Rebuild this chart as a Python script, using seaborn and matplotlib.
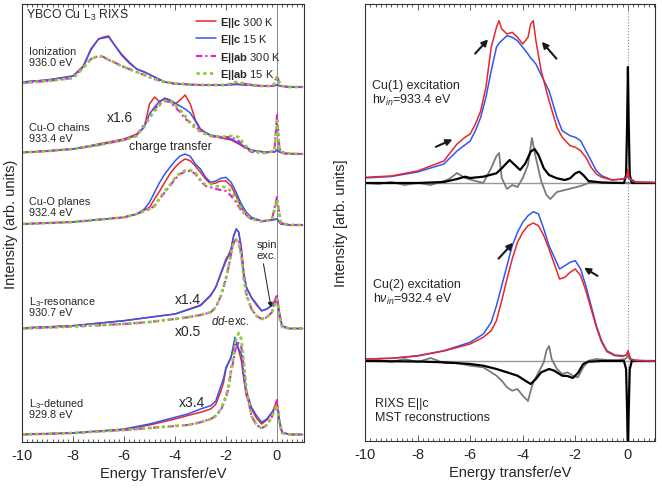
import numpy as np
import matplotlib
matplotlib.use("Agg")
import matplotlib.pyplot as plt
import seaborn as sns
from matplotlib.lines import Line2D
from matplotlib.ticker import MultipleLocator

# ---------------- left panel: YBCO Cu L3 RIXS (heights above each baseline)
e_ion = [-10, -9, -8, -7.6, -7.3, -7.0, -6.8, -6.6, -6.4, -6.1, -5.8, -5.5, -5.2,
         -4.8, -4.4, -4.0, -3.0, -2.0, -1.6, -1.2, -0.6, -0.15, 0.0, 0.15, 0.5, 1.0]
ion_c300 = [5, 7, 11, 21, 38, 48, 50, 51, 43, 33, 25, 18, 15, 10, 5, 3, 2, 2, 3, 2, 1, 1, 2, 1, 0, 0]
ion_c15 = [5, 7, 11, 20, 37, 48, 49, 50, 43, 32, 24, 18, 15, 10, 5, 3, 2, 2, 2.5, 2, 1, 1, 2, 1, 0, 0]
ion_ab300 = [4, 6, 9, 20, 28, 31, 30, 27, 25, 21, 18, 15, 12, 8, 5, 3.5, 2, 2, 4, 3, 1, 1, 11, 1, 0, 0]
ion_ab15 = [4, 6, 9, 19, 28, 31, 30, 27, 25, 21, 18, 15, 12, 8, 5, 3.5, 2, 2, 5, 3, 1, 1, 10, 1, 0, 0]

e_chain = [-10, -9, -8, -7, -6, -5.5, -5.2, -5.0, -4.8, -4.6, -4.4, -4.2, -4.0, -3.8, -3.6,
           -3.4, -3.2, -3.0, -2.6, -2.2, -1.8, -1.5, -1.3, -1.0, -0.5, -0.1, 0.0, 0.1, 0.3, 1.0]
chain_c300 = [1.5, 3, 5, 10, 15, 20, 27, 50, 57, 52, 56, 54, 50, 54, 59, 50, 34, 25, 18, 16,
              14, 10, 7, 3.5, 2, 2, 4, 2, 0.5, 0]
chain_c15 = [1.5, 3, 5, 9, 14, 19, 27, 40, 47, 53, 55, 54, 51, 48, 45, 41, 33, 24, 19, 17,
             15, 11, 8, 4, 2, 2, 4, 2, 0.5, 0]
chain_ab300 = [1.5, 3, 5, 9, 14, 19, 30, 38, 45, 50, 53, 52, 47, 42, 35, 32, 28, 23, 18, 17,
               17, 13, 7, 2, 1, 3, 39, 5, 0.5, 0]
chain_ab15 = [1.5, 3, 5, 9, 14, 18, 28, 36, 43, 49, 53, 53, 49, 44, 38, 30, 26, 22, 18, 17,
              18, 17, 10, 3, 1, 3, 33, 5, 0.5, 0]

e_plane = [-10, -8, -6, -5.5, -5.2, -5.0, -4.8, -4.6, -4.4, -4.2, -4.0, -3.8, -3.6, -3.4, -3.2,
           -3.0, -2.8, -2.6, -2.4, -2.2, -2.0, -1.8, -1.6, -1.4, -1.2, -1.0, -0.6, -0.2, 0.0,
           0.15, 0.5, 1.0]
plane_c300 = [1, 3, 7.7, 11, 15, 17.7, 26, 34, 42.7, 51, 57.7, 62.7, 66, 64.3, 59, 52.7, 46, 41,
              42, 44, 44, 39, 29, 17.7, 9.7, 7, 4, 5, 6, 1, 0, 0]
plane_c15 = [1, 3, 7.7, 11, 16, 22.7, 32.7, 42.7, 51, 57.7, 64, 69, 71, 68.7, 61, 56, 47.7, 42.7,
             44, 46.7, 47.7, 42.7, 32.7, 21, 12.7, 7.7, 4, 5, 6, 1, 0, 0]
plane_ab300 = [1, 3, 7.7, 11, 14, 16, 19, 26, 32.7, 39, 46, 51, 53.3, 54.3, 51, 44, 39, 37.7, 36,
               35, 34, 29, 22.7, 14.3, 9.3, 6, 3.7, 5, 28, 2, 0, 0]
plane_ab15 = [1, 3, 7.7, 11, 14, 16, 19, 27, 34, 40, 47, 52, 54.5, 55, 52, 45, 40, 41, 38.7,
              38.7, 37.7, 34, 26, 16, 10, 6, 3.7, 5, 25, 2, 0, 0]

e_res = [-10, -8, -6, -5, -4, -3.5, -3.0, -2.6, -2.4, -2.2, -2.0, -1.9, -1.8, -1.7, -1.6, -1.5,
         -1.4, -1.3, -1.2, -1.0, -0.8, -0.6, -0.4, -0.2, 0.0, 0.1, 0.2, 0.5, 1.0]
res_c300 = [1, 3.3, 8.3, 11.7, 15, 19.5, 24, 34, 42, 56, 70, 74, 80, 93, 100, 97, 82, 56, 42,
            31, 24, 18, 20, 24, 32, 16, 3, 0.5, 0.5]
res_c15 = [1, 3.3, 8.3, 11.7, 15, 19, 23.3, 33.3, 41.7, 55, 68, 73, 80, 93, 100, 96.7, 80, 55,
           41.7, 31.7, 25, 18.3, 20, 23.3, 28, 15, 3, 0.5, 0.5]
res_ab300 = [0.5, 2.5, 5, 7, 10, 11.7, 14, 16.7, 21.7, 33, 50, 61.7, 75, 86, 90, 88, 75, 51.7,
             35, 20, 13, 10, 11.7, 16.7, 35, 12, 2, 0.5, 0.5]
res_ab15 = [0.5, 2.5, 5, 7, 10, 11.7, 14, 16.7, 21.7, 33, 51, 62, 76, 87, 89, 86, 74, 50,
            34, 20, 13, 10, 11.7, 16.7, 30, 12, 2, 0.5, 0.5]

e_det = [-10, -8, -6, -5, -4, -3.5, -3.0, -2.6, -2.4, -2.2, -2.1, -2.0, -1.9, -1.8, -1.7, -1.65,
         -1.6, -1.5, -1.4, -1.3, -1.2, -1.0, -0.8, -0.6, -0.4, -0.2, 0.0, 0.1, 0.2, 0.5, 1.0]
det_c300 = [0.5, 2, 5.5, 10, 16, 19.5, 22.7, 26, 30.7, 44, 52, 66, 72, 77.7, 87.7, 90, 91, 84.7,
            74.7, 55.7, 39, 26, 16.7, 11, 15, 22, 34, 14, 2.7, 0.5, 0.5]
det_c15 = [0.5, 2, 6, 11, 17.7, 21, 26, 29.3, 34, 49, 56, 67.7, 72.7, 77.7, 91, 97.7, 94, 86, 81,
           59, 44, 27.7, 19.3, 12.7, 16, 22.7, 27.7, 14, 2.7, 0.5, 0.5]
det_ab300 = [0.5, 2, 5, 7, 9, 10, 12.7, 16, 19, 25, 31, 37, 47, 63, 75, 83, 89, 92, 88, 68, 44,
             19, 10, 6.7, 10, 18, 35, 12, 2, 0.5, 0.5]
det_ab15 = [0.5, 2, 5, 7, 9, 10, 12.7, 16, 19.3, 26, 32, 39, 49, 66, 79, 88, 96, 102, 96, 72.7,
            46, 19, 10, 6.7, 10, 18, 30, 12, 2, 0.5, 0.5]

legend_labels = [r'$\mathbf{E||c}$ 300 K', r'$\mathbf{E||c}$ 15 K',
                 r'$\mathbf{E||ab}$ 300 K', r'$\mathbf{E||ab}$ 15 K']

# ---------------- right panel: E||c RIXS and MST reconstructions
e_cu1 = [-10, -9, -8, -7, -6.5, -6.2, -6.0, -5.8, -5.6, -5.4, -5.2, -5.0, -4.9, -4.8, -4.6,
         -4.4, -4.2, -4.0, -3.8, -3.7, -3.6, -3.5, -3.3, -3.0, -2.7, -2.5, -2.2, -2.0, -1.8,
         -1.6, -1.4, -1.2, -1.0, -0.6, -0.2, -0.05, 0.0, 0.05, 0.3, 1.0]
cu1_300 = [5.7, 7, 12, 22, 39, 45.7, 49, 59, 72, 95.7, 135.7, 155.7, 162.3, 154, 149, 150.7,
           145.7, 139, 145.7, 159, 162.3, 142.3, 112.3, 82.3, 55.7, 45.7, 37.3, 35.7, 32.3,
           25.7, 15.7, 9, 5.7, 3, 4, 6, 14, 5, 1, 0.5]
cu1_15 = [5, 6.5, 11, 19, 32, 38, 42, 52.3, 65.7, 85.7, 112.3, 135.7, 140, 142.3, 147.3,
          145.7, 142.3, 135.7, 129, 125, 122.3, 119, 108, 92.3, 65.7, 52.3, 47.3, 45.7, 42.3,
          32.3, 22.3, 12.3, 7.3, 3, 4, 5, 7.3, 4, 1, 0.5]

e_cu1_diff = [-10, -9.5, -9, -8.5, -8, -7.5, -7, -6.8, -6.5, -6.2, -5.8, -5.5, -5.2, -5.0, -4.9,
              -4.8, -4.6, -4.4, -4.2, -4.0, -3.8, -3.65, -3.5, -3.3, -3.1, -2.95, -2.7, -2.4,
              -2.1, -1.8, -1.5, -1.2, -0.8, -0.4, 0.0, 0.5, 1.0]
cu1_diff = [0, -1, 1, -2, 0, -2, 2, 4, 10, 5, 2, 0, 15, 27, 30, 5, -6, -2, -4, 5, 18, 45, 25, 2,
            -12, -16, -9, -7, -5, -3, 0, 1, 0, 0, 0, 0, 0]

e_cu1_fit = [-10, -8, -7, -6.5, -6.2, -6.0, -5.5, -5.0, -4.8, -4.5, -4.3, -4.1, -3.9, -3.7,
             -3.55, -3.4, -3.2, -3.0, -2.7, -2.4, -2.2, -2.0, -1.85, -1.7, -1.5, -1.0, -0.15,
             -0.07, -0.03, 0.0, 0.03, 0.07, 0.15, 1.0]
cu1_fit = [0, 0, 1, 4, 6.3, 5, 6.3, 9.7, 14.7, 23, 18, 13, 19.7, 31.3, 34, 28, 14.7, 8, 4.7, 3,
           4.7, 9.7, 11.3, 8, 2, 0.5, 0, 8, 60, 116, 60, 8, 0, 0]

e_cu2 = [-10, -9, -8, -7, -6, -5.5, -5.2, -5.0, -4.8, -4.6, -4.4, -4.2, -4.0, -3.8, -3.6, -3.4,
         -3.2, -3.0, -2.8, -2.6, -2.4, -2.2, -2.0, -1.8, -1.6, -1.4, -1.2, -1.0, -0.8, -0.5,
         -0.2, -0.05, 0.0, 0.1, 0.3, 1.0]
cu2_15 = [2, 2.7, 5.3, 10.3, 18.7, 27, 38.7, 55.3, 75.3, 95.3, 115.3, 128.7, 138.7, 145.3,
          149.3, 147, 132, 115.3, 103.7, 92, 95.3, 98.7, 100.3, 92, 75.3, 55.3, 35.3, 20.3,
          10.3, 6, 5.3, 6, 9.3, 2, 0.5, 0]
cu2_300 = [2, 2.7, 5, 10, 17, 23.7, 30.3, 40.3, 60.3, 82, 102, 118.7, 128.7, 135.3, 138, 135.3,
           125.3, 112, 97, 82, 83.7, 88.7, 92, 85.3, 70.3, 52, 33.7, 18.7, 9.3, 5.3, 4.7, 6,
           10.3, 2, 0.5, 0]

e_cu2_diff = [-10, -9.5, -9, -8.5, -8, -7.5, -7, -6.5, -6.0, -5.5, -5.2, -5.0, -4.8, -4.6, -4.4,
              -4.2, -4.0, -3.8, -3.7, -3.6, -3.4, -3.2, -3.1, -3.0, -2.9, -2.7, -2.5, -2.3,
              -2.1, -1.9, -1.7, -1.5, -1.2, -0.8, -0.4, -0.1, 0.0, 0.1, 0.5, 1.0]
cu2_diff = [0, 1, -1, 2, -1, 3, -2, -2, -4.7, -6.3, -11.3, -14.7, -19.7, -26.3, -29.7, -28,
            -34.7, -40, -30, -21.3, -11.3, -1.3, 10.3, 15, 2, -8, -13, -11.3, -14.7, -16.3,
            -6.3, 0.3, 2, 1, 1, 2, 5, 1, 0, 0]

e_cu2_fit = [-10, -8, -7, -6, -5.5, -5.0, -4.6, -4.2, -3.9, -3.7, -3.5, -3.3, -3.0, -2.8, -2.5,
             -2.3, -2.1, -1.9, -1.7, -1.5, -1.0, -0.15, -0.07, -0.03, 0.0, 0.03, 0.07, 0.15, 1.0]
cu2_fit = [0, -0.5, -1.3, -3, -4.7, -8, -11.3, -14.7, -19.7, -23, -18, -11.3, -8, -9.7, -14.7,
           -15, -17, -12, -3, -0.7, 0, 0, -8, -50, -95, -50, -8, 0, 0]

# ---------------- style
sns.set_theme(style="ticks")
plt.rcParams['font.family'] = ['Liberation Sans', 'DejaVu Sans']
plt.rcParams['mathtext.fontset'] = 'custom'
plt.rcParams['mathtext.rm'] = 'Liberation Sans'
plt.rcParams['mathtext.it'] = 'Liberation Sans:italic'
plt.rcParams['mathtext.bf'] = 'Liberation Sans:bold'
plt.rcParams['axes.unicode_minus'] = False

styles = [dict(color='#e8262b', linestyle='-', lw=1.1),
          dict(color='#3355f2', linestyle='-', lw=1.1),
          dict(color='#e020d8', linestyle=(0, (3, 1.5, 1, 1.5)), lw=1.5),
          dict(color='#8acd3c', linestyle=(0, (1.2, 1.2)), lw=2.0)]

fig = plt.figure(figsize=(6.62, 4.89), dpi=100)
fig.patch.set_facecolor('white')
ax1 = fig.add_axes([22 / 662, 1 - 443 / 489, 282 / 662, 438 / 489])
ax2 = fig.add_axes([365 / 662, 1 - 442 / 489, 290 / 662, 437 / 489])

left_spectra = [
    (e_ion, [ion_c300, ion_c15, ion_ab300, ion_ab15], 355),
    (e_chain, [chain_c300, chain_c15, chain_ab300, chain_ab15], 288),
    (e_plane, [plane_c300, plane_c15, plane_ab300, plane_ab15], 217),
    (e_res, [res_c300, res_c15, res_ab300, res_ab15], 113),
    (e_det, [det_c300, det_c15, det_ab300, det_ab15], 7),
]

ax1.axvline(0, color='#888888', lw=0.7, zorder=1)
for e, curves, base in left_spectra:
    for h, st in zip(curves, styles):
        sns.lineplot(x=e, y=np.array(h) + base, ax=ax1, **st)

handles = [Line2D([], [], **st) for st in styles]
ax1.legend(handles, legend_labels, loc='upper left', bbox_to_anchor=(0.6, 0.985),
           frameon=False, fontsize=8, handlelength=1.8, handletextpad=0.4,
           labelspacing=0.3, borderaxespad=0)

def lx(px):
    return (px - 22) / 25.5 - 10

def ly(py):
    return 443 - py

ax1.text(lx(26), ly(15), r'YBCO Cu L$_3$ RIXS', fontsize=8.8, va='center')
for name, energy, py in [('Ionization', '936.0 eV', 52.3),
                         ('Cu-O chains', '933.4 eV', 128.3),
                         ('Cu-O planes', '932.4 eV', 201.7),
                         (r'L$_3$-resonance', '930.7 eV', 302.3),
                         (r'L$_3$-detuned', '929.8 eV', 404.3)]:
    ax1.text(lx(29), ly(py), name, fontsize=7.8, va='center')
    ax1.text(lx(29), ly(py + 11), energy, fontsize=7.8, va='center')

ax1.text(lx(120), ly(118.3), 'x1.6', fontsize=10, ha='center', va='center')
ax1.text(lx(170), ly(146.7), 'charge transfer', fontsize=8.8, ha='center', va='center')
ax1.text(lx(187.7), ly(300), 'x1.4', fontsize=10, ha='center', va='center')
ax1.text(lx(187.7), ly(331.7), 'x0.5', fontsize=10, ha='center', va='center')
ax1.text(lx(230.7), ly(321.7), r'$\it{dd}$-exc.', fontsize=8.3, ha='center', va='center')
ax1.text(lx(191.7), ly(403.3), 'x3.4', fontsize=10, ha='center', va='center')
ax1.text(lx(266.7), ly(245), 'spin', fontsize=8, ha='center', va='center')
ax1.text(lx(266.7), ly(256), 'exc.', fontsize=8, ha='center', va='center')
ax1.annotate('', xy=(lx(271.5), ly(311)), xytext=(lx(263), ly(262)),
             arrowprops=dict(arrowstyle='-|>', color='k', lw=0.7, mutation_scale=7))

ax1.set_xlim(-10, 1.06)
ax1.set_ylim(0, 438)
ax1.set_xlabel('Energy Transfer/eV', fontsize=10.5, labelpad=3)
ax1.set_ylabel('Intensity (arb. units)', fontsize=10.5, labelpad=3)

# ---------------- right panel
top_base, bot_base = 258, 80
ax2.axhline(top_base, color='#999999', lw=1.0, zorder=1)
ax2.axhline(bot_base, color='#999999', lw=1.0, zorder=1)
ax2.axvline(0, color='#888888', lw=0.8, ls=':', zorder=1)

for base, e_d, diff, e_f, fit, e_s, c15, c300 in [
        (top_base, e_cu1_diff, cu1_diff, e_cu1_fit, cu1_fit, e_cu1, cu1_15, cu1_300),
        (bot_base, e_cu2_diff, cu2_diff, e_cu2_fit, cu2_fit, e_cu2, cu2_15, cu2_300)]:
    sns.lineplot(x=e_d, y=np.array(diff) + base, ax=ax2, color='#7a7a7a', lw=1.3)
    sns.lineplot(x=e_f, y=np.array(fit) + base, ax=ax2, color='black', lw=1.6)
    sns.lineplot(x=e_s, y=np.array(c15) + base, ax=ax2, **styles[1])
    sns.lineplot(x=e_s, y=np.array(c300) + base, ax=ax2, **styles[0])

def rx(px):
    return (px - 365) / 26.3 - 10

def ry(py):
    return 442 - py

ax2.text(rx(371.7), ry(86), 'Cu(1) excitation', fontsize=9, va='center')
ax2.text(rx(371.7), ry(100), r'h$\nu_{in}$=933.4 eV', fontsize=9, va='center')
ax2.text(rx(373.3), ry(285), 'Cu(2) excitation', fontsize=9, va='center')
ax2.text(rx(373.3), ry(299), r'h$\nu_{in}$=932.4 eV', fontsize=9, va='center')
ax2.text(rx(375), ry(404.3), 'RIXS E||c', fontsize=9, va='center')
ax2.text(rx(375), ry(417.7), 'MST reconstructions', fontsize=9, va='center')

arrows = [((473.3, 56.7), (490, 38.3)), ((558.3, 61.7), (540, 40.7)),
          ((433.3, 149), (455, 139.3)), ((496.7, 261.7), (515, 241.7)),
          ((600, 278.3), (581.7, 267.3))]
for (tx, ty), (hx, hy) in arrows:
    ax2.annotate('', xy=(rx(hx), ry(hy)), xytext=(rx(tx), ry(ty)),
                 arrowprops=dict(arrowstyle='-|>', color='k', lw=1.5, mutation_scale=9))

ax2.set_xlim(-10, 1.03)
ax2.set_ylim(0, 437)
ax2.set_xlabel('Energy transfer/eV', fontsize=10.5, labelpad=3)
ax2.set_ylabel('Intensity [arb. units]', fontsize=10.5, labelpad=12)

for ax in (ax1, ax2):
    ax.set_yticks([])
    ax.xaxis.set_major_locator(MultipleLocator(2))
    ax.xaxis.set_minor_locator(MultipleLocator(0.2))
    ax.tick_params(axis='x', which='both', direction='in', top=True, bottom=True,
                   labelsize=10.5, pad=4, width=0.6, color='#444444')
    ax.tick_params(axis='x', which='major', length=4)
    ax.tick_params(axis='x', which='minor', length=2.5)
    for sp in ax.spines.values():
        sp.set_linewidth(0.8)
        sp.set_color('#333333')
    ax.set_facecolor('white')

fig.savefig('out.png', dpi=100, facecolor='white')
